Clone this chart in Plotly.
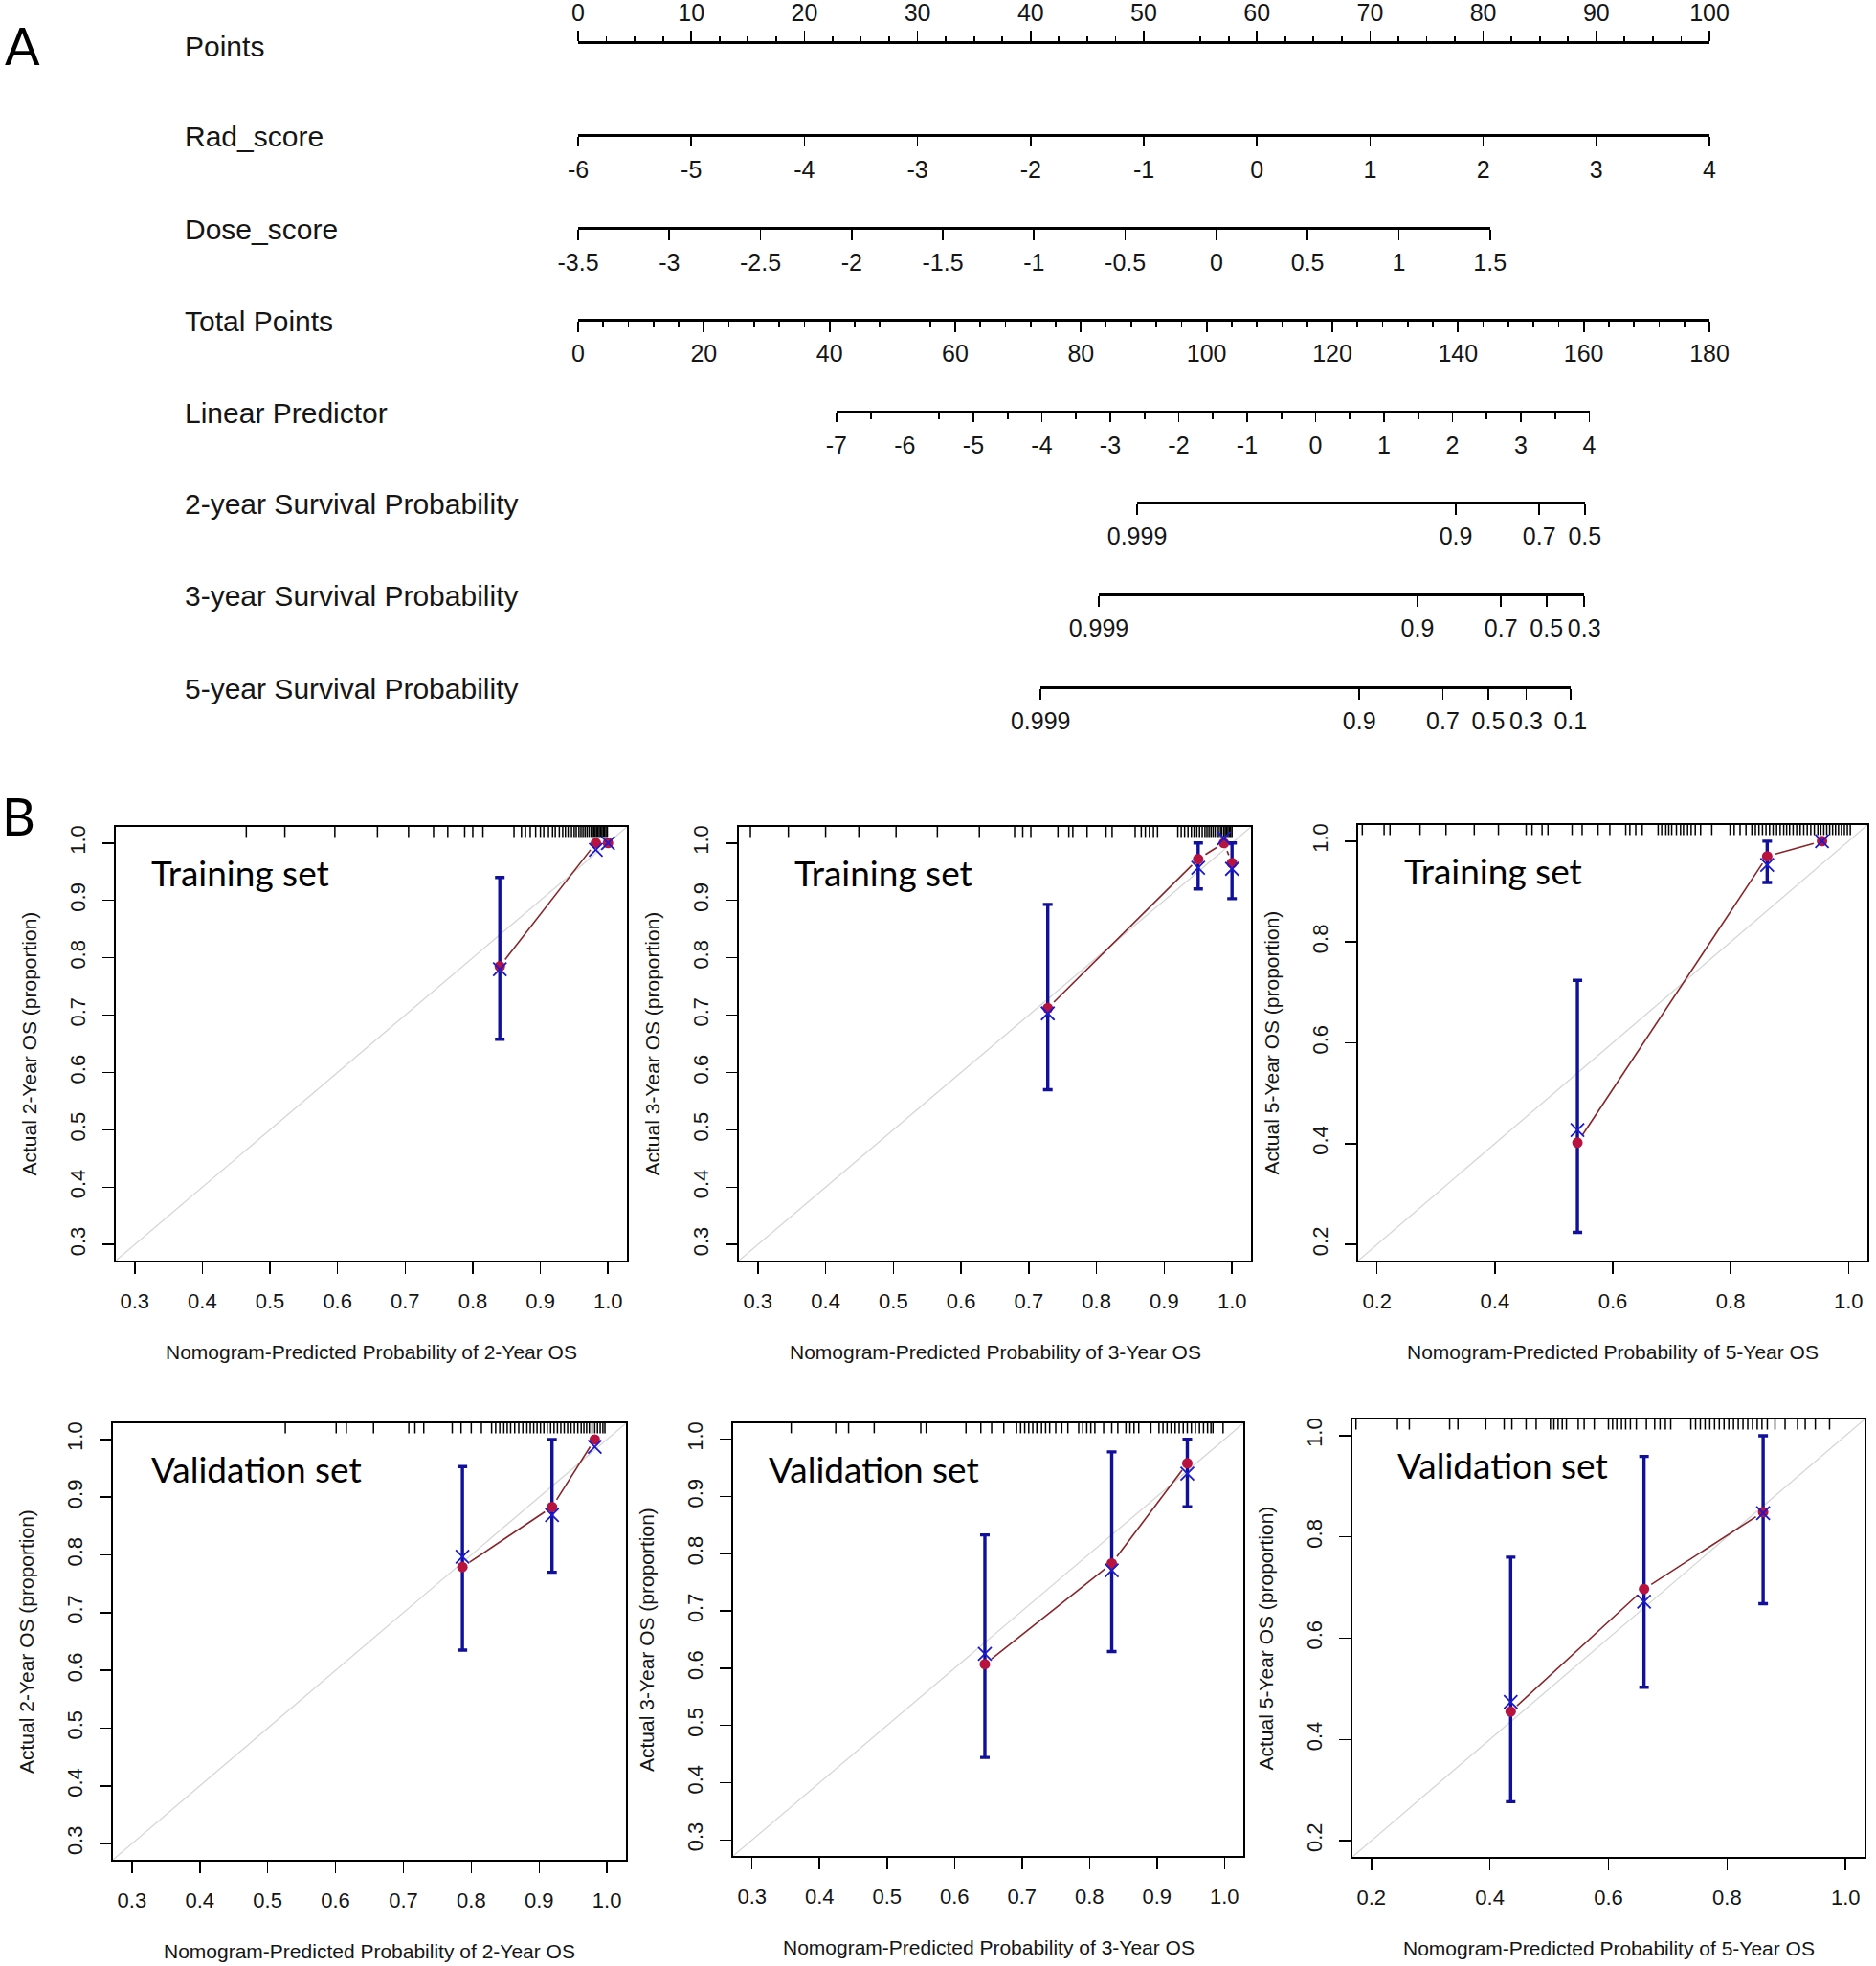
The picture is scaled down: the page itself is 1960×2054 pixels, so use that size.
import math
import plotly.graph_objects as go

W, H = 1960, 2054          # picture size (the page margin is removed below)

# ======================= Panel A : nomogram data =======================
row_labels = ["Points", "Rad_score", "Dose_score", "Total Points", "Linear Predictor",
              "2-year Survival Probability", "3-year Survival Probability",
              "5-year Survival Probability"]
points_ticks = [0, 10, 20, 30, 40, 50, 60, 70, 80, 90, 100]
rad_ticks = [-6, -5, -4, -3, -2, -1, 0, 1, 2, 3, 4]
dose_ticks = [-3.5, -3, -2.5, -2, -1.5, -1, -0.5, 0, 0.5, 1, 1.5]
total_ticks = [0, 20, 40, 60, 80, 100, 120, 140, 160, 180]
lp_ticks = [-7, -6, -5, -4, -3, -2, -1, 0, 1, 2, 3, 4]
surv2_ticks = [0.999, 0.9, 0.7, 0.5]
surv3_ticks = [0.999, 0.9, 0.7, 0.5, 0.3]
surv5_ticks = [0.999, 0.9, 0.7, 0.5, 0.3, 0.1]

# model constants
rad_points_per_unit = 10.0      # Rad_score -6 -> 0 points
dose_points_per_unit = 16.12    # Dose_score -3.5 -> 0 points
total_per_point = 1.8           # 100 points <-> 180 total points
lp_total_at_min = 41.1          # total points at LP = -7
lp_total_per_unit = 10.89       # total points per LP unit
surv_offset = {2: 4.30, 3: 3.74, 5: 2.89}   # LP = offset + log(-log S)

# ======================= Panel B : calibration data =======================
# 2-year, training
tr2_pred = [0.840, 0.982, 1.000]
tr2_obs = [0.785, 1.000, 1.000]
tr2_corr = [0.780, 0.988, 1.000]
tr2_lo = [0.658, None, None]
tr2_hi = [0.940, None, None]
tr2_rug = [0.465, 0.522, 0.596, 0.659, 0.705, 0.742, 0.763, 0.788, 0.800, 0.815,
           0.861, 0.872, 0.878, 0.885, 0.893, 0.900, 0.905, 0.912, 0.918, 0.922,
           0.928, 0.933, 0.937, 0.941, 0.946, 0.950, 0.953, 0.957, 0.960, 0.963,
           0.966, 0.969, 0.972, 0.975, 0.977, 0.979, 0.981, 0.983, 0.985, 0.987,
           0.989, 0.991, 0.993, 0.995, 0.997, 0.999]
# 3-year, training
tr3_pred = [0.728, 0.950, 0.988, 1.000]
tr3_obs = [0.712, 0.972, 1.000, 0.965]
tr3_corr = [0.703, 0.957, 1.008, 0.955]
tr3_lo = [0.570, 0.920, None, 0.903]
tr3_hi = [0.893, 1.000, None, 1.000]
tr3_rug = [0.289, 0.345, 0.400, 0.449, 0.504, 0.565, 0.627, 0.679, 0.691, 0.703,
           0.743, 0.759, 0.765, 0.786, 0.814, 0.823, 0.857, 0.866, 0.872, 0.878,
           0.884, 0.890, 0.920, 0.925, 0.930, 0.935, 0.940, 0.944, 0.948, 0.952,
           0.956, 0.960, 0.963, 0.966, 0.969, 0.972, 0.975, 0.978, 0.980, 0.983,
           0.985, 0.988, 0.990, 0.992, 0.994, 0.996, 0.998, 1.000]
# 5-year, training
tr5_pred = [0.540, 0.862, 0.955]
tr5_obs = [0.402, 0.970, 1.000]
tr5_corr = [0.427, 0.953, 1.000]
tr5_lo = [0.224, 0.918, None]
tr5_hi = [0.724, 1.000, None]
tr5_rug = [0.175, 0.212, 0.222, 0.273, 0.317, 0.365, 0.406, 0.453, 0.463, 0.480,
           0.490, 0.531, 0.548, 0.575, 0.595, 0.622, 0.629, 0.639, 0.650, 0.677,
           0.683, 0.690, 0.695, 0.700, 0.708, 0.715, 0.720, 0.727, 0.733, 0.740,
           0.749, 0.768, 0.799, 0.806, 0.816, 0.826, 0.836, 0.842, 0.848, 0.854,
           0.860, 0.866, 0.872, 0.878, 0.884, 0.890, 0.895, 0.900, 0.906, 0.912,
           0.918, 0.924, 0.930, 0.936, 0.942, 0.948, 0.953, 0.958, 0.963, 0.968,
           0.973, 0.978, 0.983, 0.988, 0.993, 0.998, 1.003]
# 2-year, validation
va2_pred = [0.787, 0.919, 0.982]
va2_obs = [0.779, 0.883, 1.000]
va2_corr = [0.797, 0.869, 0.987]
va2_lo = [0.635, 0.770, None]
va2_hi = [0.953, 1.000, None]
va2_rug = [0.526, 0.601, 0.616, 0.656, 0.708, 0.717, 0.730, 0.772, 0.785, 0.800,
           0.815, 0.830, 0.836, 0.842, 0.848, 0.853, 0.858, 0.864, 0.870, 0.876,
           0.882, 0.887, 0.892, 0.897, 0.902, 0.907, 0.912, 0.917, 0.922, 0.927,
           0.932, 0.937, 0.942, 0.947, 0.952, 0.957, 0.962, 0.966, 0.970, 0.974,
           0.978, 0.982, 0.986, 0.990, 0.994, 0.997]
# 3-year, validation
va3_pred = [0.645, 0.833, 0.945]
va3_obs = [0.607, 0.783, 0.958]
va3_corr = [0.625, 0.771, 0.940]
va3_lo = [0.444, 0.629, 0.882]
va3_hi = [0.833, 0.978, 1.000]
va3_rug = [0.358, 0.424, 0.443, 0.481, 0.550, 0.558, 0.617, 0.639, 0.655, 0.673,
           0.692, 0.698, 0.704, 0.710, 0.716, 0.722, 0.729, 0.735, 0.741, 0.750,
           0.759, 0.768, 0.784, 0.790, 0.796, 0.802, 0.808, 0.821, 0.833, 0.842,
           0.854, 0.860, 0.866, 0.873, 0.891, 0.903, 0.909, 0.915, 0.921, 0.927,
           0.933, 0.939, 0.945, 0.951, 0.957, 0.963, 0.969, 0.975, 0.980, 0.983,
           0.998]
# 5-year, validation
va5_pred = [0.435, 0.660, 0.861]
va5_obs = [0.455, 0.697, 0.849]
va5_corr = [0.474, 0.672, 0.847]
va5_lo = [0.277, 0.503, 0.668]
va5_hi = [0.760, 0.959, 1.000]
va5_rug = [0.174, 0.244, 0.264, 0.332, 0.346, 0.393, 0.424, 0.437, 0.461, 0.478,
           0.502, 0.508, 0.515, 0.522, 0.529, 0.549, 0.559, 0.576, 0.600, 0.607,
           0.614, 0.622, 0.629, 0.637, 0.647, 0.664, 0.678, 0.687, 0.696, 0.705,
           0.739, 0.747, 0.755, 0.763, 0.771, 0.779, 0.787, 0.795, 0.803, 0.811,
           0.819, 0.827, 0.835, 0.843, 0.851, 0.859, 0.868, 0.881, 0.898, 0.919,
           0.932, 0.949, 0.973]

ticks_03 = [0.3, 0.4, 0.5, 0.6, 0.7, 0.8, 0.9, 1.0]
ticks_02 = [0.2, 0.4, 0.6, 0.8, 1.0]
range_03 = [0.272, 1.028]
range_02 = [0.168, 1.032]

# ======================= helpers =======================
R_FONT = "Liberation Sans, Arial, sans-serif"
C_FONT = "Lato, Open Sans, sans-serif"
TXT = "#151515"


def fx(px):
    return px / W


def fy(py):
    return 1 - py / H


def fmt(v):
    return "%g" % v


fig = go.Figure()
layout_axes = {}
annotations = []
_axis_n = [0]


def new_ids():
    _axis_n[0] += 1
    n = _axis_n[0]
    if n == 1:
        return "x", "y", "xaxis", "yaxis"
    return "x%d" % n, "y%d" % n, "xaxis%d" % n, "yaxis%d" % n


# ---- nomogram geometry (pixels) ----
P0_PX, P100_PX = 604, 1786


def pts_to_px(p):
    return P0_PX + p * (P100_PX - P0_PX) / 100.0


def total_to_px(t):
    return pts_to_px(t / total_per_point)


def lp_to_px(lp):
    return total_to_px(lp_total_at_min + (lp - lp_ticks[0]) * lp_total_per_unit)


def nomo_axis(y_line, px_lo, px_hi, rng, side, ticklen, tickvals, ticktext,
              minor_vals=None, minor_len=5, standoff=2):
    xn, yn, xk, yk = new_ids()
    if side == "bottom":
        ydom = [fy(y_line), fy(y_line) + 0.004]
    else:
        ydom = [fy(y_line) - 0.004, fy(y_line)]
    ax = dict(domain=[fx(px_lo), fx(px_hi)], range=rng, anchor=yn, side=side,
              showline=True, linecolor="black", linewidth=2.6,
              ticks="outside", ticklen=ticklen, tickwidth=1.7, tickcolor="black",
              tickmode="array", tickvals=tickvals, ticktext=ticktext,
              tickangle=0, showgrid=False, zeroline=False, automargin=False,
              tickfont=dict(family=R_FONT, size=25, color=TXT),
              ticklabelstandoff=standoff, fixedrange=True)
    if minor_vals:
        ax["minor"] = dict(tickmode="array", tickvals=minor_vals, ticks="outside",
                           ticklen=minor_len, tickwidth=1.7, tickcolor="black",
                           showgrid=False)
    layout_axes[xk] = ax
    layout_axes[yk] = dict(domain=ydom, range=[0, 1], visible=False, anchor=xn,
                           automargin=False, fixedrange=True)
    fig.add_trace(go.Scatter(x=rng, y=[0.5, 0.5], xaxis=xn, yaxis=yn, mode="markers",
                             marker=dict(opacity=0), hoverinfo="skip", showlegend=False))


def frange(a, b, step):
    out = []
    k = 0
    while a + k * step <= b + 1e-9:
        out.append(round(a + k * step, 6))
        k += 1
    return out


# ---- Panel A ----
row_y = [46, 140, 237, 333, 429, 524, 620, 717]
for lab, yy in zip(row_labels, row_y):
    annotations.append(dict(x=fx(191), y=fy(yy + 2), xref="paper", yref="paper",
                            text=lab, showarrow=False, xanchor="left", yanchor="middle",
                            font=dict(family=R_FONT, size=30, color=TXT)))

# Points
nomo_axis(row_y[0], pts_to_px(points_ticks[0]), pts_to_px(points_ticks[-1]),
          [points_ticks[0], points_ticks[-1]], "top", 11, points_ticks,
          [fmt(v) for v in points_ticks],
          minor_vals=frange(points_ticks[0], points_ticks[-1], 2.5), minor_len=5, standoff=0)
# Rad_score
rad_pts = [(v - rad_ticks[0]) * rad_points_per_unit for v in (rad_ticks[0], rad_ticks[-1])]
nomo_axis(row_y[1], pts_to_px(rad_pts[0]), pts_to_px(rad_pts[1]),
          [rad_ticks[0], rad_ticks[-1]], "bottom", 10, rad_ticks,
          [fmt(v) for v in rad_ticks], standoff=3)
# Dose_score
dose_pts = [(v - dose_ticks[0]) * dose_points_per_unit for v in (dose_ticks[0], dose_ticks[-1])]
nomo_axis(row_y[2], pts_to_px(dose_pts[0]), pts_to_px(dose_pts[1]),
          [dose_ticks[0], dose_ticks[-1]], "bottom", 11, dose_ticks,
          [fmt(v) for v in dose_ticks], standoff=2)
# Total Points
nomo_axis(row_y[3], total_to_px(total_ticks[0]), total_to_px(total_ticks[-1]),
          [total_ticks[0], total_ticks[-1]], "bottom", 11, total_ticks,
          [fmt(v) for v in total_ticks],
          minor_vals=frange(total_ticks[0], total_ticks[-1], 4), minor_len=6, standoff=1)
# Linear predictor
nomo_axis(row_y[4], lp_to_px(lp_ticks[0]), lp_to_px(lp_ticks[-1]),
          [lp_ticks[0], lp_ticks[-1]], "bottom", 9, lp_ticks,
          [fmt(v) for v in lp_ticks],
          minor_vals=frange(lp_ticks[0], lp_ticks[-1], 0.5), minor_len=6, standoff=3)
# Survival probabilities (positions on the LP scale)
for yr, ticks, yy in ((2, surv2_ticks, row_y[5]), (3, surv3_ticks, row_y[6]),
                      (5, surv5_ticks, row_y[7])):
    lpv = [surv_offset[yr] + math.log(-math.log(s)) for s in ticks]
    nomo_axis(yy, lp_to_px(lpv[0]), lp_to_px(lpv[-1]), [lpv[0], lpv[-1]], "bottom", 11,
              lpv, [fmt(s) for s in ticks], standoff=1)

annotations.append(dict(x=fx(3), y=fy(47), xref="paper", yref="paper", text="A",
                        showarrow=False, xanchor="left", yanchor="middle",
                        font=dict(family=C_FONT, size=54, color="black")))
annotations.append(dict(x=fx(0), y=fy(852), xref="paper", yref="paper", text="B",
                        showarrow=False, xanchor="left", yanchor="middle",
                        font=dict(family=C_FONT, size=54, color="black")))

# ---- Panel B ----
RED = "#b8123e"
BLUE = "#1a1ad0"
NAVY = "#10109a"
LINE_RED = "#86252a"


def calib_panel(box, rng, tvals, pred, obs, corr, lo, hi, rug, label, label_dx,
                xtitle, ytitle):
    left, right, top, bottom = box
    xn, yn, xk, yk = new_ids()
    common = dict(range=rng, showline=True, mirror=True, linecolor="black",
                  linewidth=1.6, ticks="outside", ticklen=12, tickwidth=1.5,
                  tickcolor="black", tickmode="array", tickvals=tvals,
                  ticktext=["%.1f" % v for v in tvals], showgrid=False, zeroline=False,
                  automargin=False,
                  tickfont=dict(family=R_FONT, size=22, color=TXT), fixedrange=True)
    layout_axes[xk] = dict(common, domain=[fx(left), fx(right)], anchor=yn,
                           tickangle=0, ticklabelstandoff=10)
    layout_axes[yk] = dict(common, domain=[fy(bottom), fy(top)], anchor=xn,
                           tickangle=-90, ticklabelstandoff=10)
    # diagonal
    fig.add_trace(go.Scatter(x=rng, y=rng, xaxis=xn, yaxis=yn, mode="lines",
                             line=dict(color="#d6d6d6", width=1.3),
                             hoverinfo="skip", showlegend=False))
    # rug at top
    span = rng[1] - rng[0]
    rx, ry = [], []
    for v in rug:
        rx += [v, v, None]
        ry += [rng[1], rng[1] - 0.023 * span, None]
    fig.add_trace(go.Scatter(x=rx, y=ry, xaxis=xn, yaxis=yn, mode="lines",
                             line=dict(color="black", width=1.5),
                             hoverinfo="skip", showlegend=False))
    # connecting line with small gaps around the points (type = "b")
    sx = (right - left) / span
    sy = (bottom - top) / span
    gap = 9.0
    lx, ly = [], []
    for i in range(len(pred) - 1):
        ax_, ay_ = pred[i], obs[i]
        bx_, by_ = pred[i + 1], obs[i + 1]
        dxp, dyp = (bx_ - ax_) * sx, (by_ - ay_) * sy
        L = math.hypot(dxp, dyp)
        if L <= 2 * gap:
            continue
        f = gap / L
        lx += [ax_ + (bx_ - ax_) * f, bx_ - (bx_ - ax_) * f, None]
        ly += [ay_ + (by_ - ay_) * f, by_ - (by_ - ay_) * f, None]
    fig.add_trace(go.Scatter(x=lx, y=ly, xaxis=xn, yaxis=yn, mode="lines",
                             line=dict(color=LINE_RED, width=1.6),
                             hoverinfo="skip", showlegend=False))
    # error bars
    ex, ey, ep, em = [], [], [], []
    for p, o, l, h in zip(pred, obs, lo, hi):
        if l is None or h is None:
            continue
        ex.append(p)
        ey.append(o)
        ep.append(h - o)
        em.append(o - l)
    fig.add_trace(go.Scatter(x=ex, y=ey, xaxis=xn, yaxis=yn, mode="markers",
                             marker=dict(opacity=0),
                             error_y=dict(type="data", symmetric=False, array=ep,
                                          arrayminus=em, color=NAVY, thickness=3.4,
                                          width=5),
                             hoverinfo="skip", showlegend=False))
    # observed points
    fig.add_trace(go.Scatter(x=pred, y=obs, xaxis=xn, yaxis=yn, mode="markers",
                             marker=dict(color=RED, size=11, symbol="circle"),
                             hoverinfo="skip", showlegend=False))
    # bias-corrected points
    fig.add_trace(go.Scatter(x=pred, y=corr, xaxis=xn, yaxis=yn, mode="markers",
                             marker=dict(color=BLUE, size=14, symbol="x-thin-open",
                                         line=dict(color=BLUE, width=1.8)),
                             hoverinfo="skip", showlegend=False))
    # set label
    annotations.append(dict(x=fx(left + label_dx), y=fy(top + 47), xref="paper",
                            yref="paper", text=label, showarrow=False, xanchor="left",
                            yanchor="middle",
                            font=dict(family=C_FONT, size=37, color="black")))
    # axis titles
    annotations.append(dict(x=fx((left + right) / 2), y=fy(bottom + 95), xref="paper",
                            yref="paper", text=xtitle, showarrow=False,
                            xanchor="center", yanchor="middle",
                            font=dict(family=R_FONT, size=21, color=TXT)))
    annotations.append(dict(x=fx(left - 91), y=fy((top + bottom) / 2), xref="paper",
                            yref="paper", text=ytitle, showarrow=False, textangle=-90,
                            xanchor="center", yanchor="middle",
                            font=dict(family=R_FONT, size=21, color=TXT)))


calib_panel((121, 655, 864, 1317), range_03, ticks_03, tr2_pred, tr2_obs, tr2_corr,
            tr2_lo, tr2_hi, tr2_rug, "Training set", 35,
            "Nomogram-Predicted Probability of 2-Year OS", "Actual 2-Year OS (proportion)")
calib_panel((772, 1307, 864, 1317), range_03, ticks_03, tr3_pred, tr3_obs, tr3_corr,
            tr3_lo, tr3_hi, tr3_rug, "Training set", 56,
            "Nomogram-Predicted Probability of 3-Year OS", "Actual 3-Year OS (proportion)")
calib_panel((1419, 1951, 862, 1317), range_02, ticks_02, tr5_pred, tr5_obs, tr5_corr,
            tr5_lo, tr5_hi, tr5_rug, "Training set", 46,
            "Nomogram-Predicted Probability of 5-Year OS", "Actual 5-Year OS (proportion)")
calib_panel((118, 654, 1487, 1943), range_03, ticks_03, va2_pred, va2_obs, va2_corr,
            va2_lo, va2_hi, va2_rug, "Validation set", 38,
            "Nomogram-Predicted Probability of 2-Year OS", "Actual 2-Year OS (proportion)")
calib_panel((766, 1299, 1487, 1939), range_03, ticks_03, va3_pred, va3_obs, va3_corr,
            va3_lo, va3_hi, va3_rug, "Validation set", 35,
            "Nomogram-Predicted Probability of 3-Year OS", "Actual 3-Year OS (proportion)")
calib_panel((1413, 1948, 1483, 1940), range_02, ticks_02, va5_pred, va5_obs, va5_corr,
            va5_lo, va5_hi, va5_rug, "Validation set", 45,
            "Nomogram-Predicted Probability of 5-Year OS", "Actual 5-Year OS (proportion)")

fig.update_layout(width=W, height=H, margin=dict(l=0, r=0, t=0, b=0, pad=0),
                  paper_bgcolor="white", plot_bgcolor="white", showlegend=False,
                  annotations=annotations, **layout_axes)

# remove the default page margin so that the figure fills the window exactly
fig.write_html("out.html",
               config={"displayModeBar": False, "staticPlot": True},
               post_script="document.body.style.margin='0';"
                           "document.body.style.overflow='hidden';")
